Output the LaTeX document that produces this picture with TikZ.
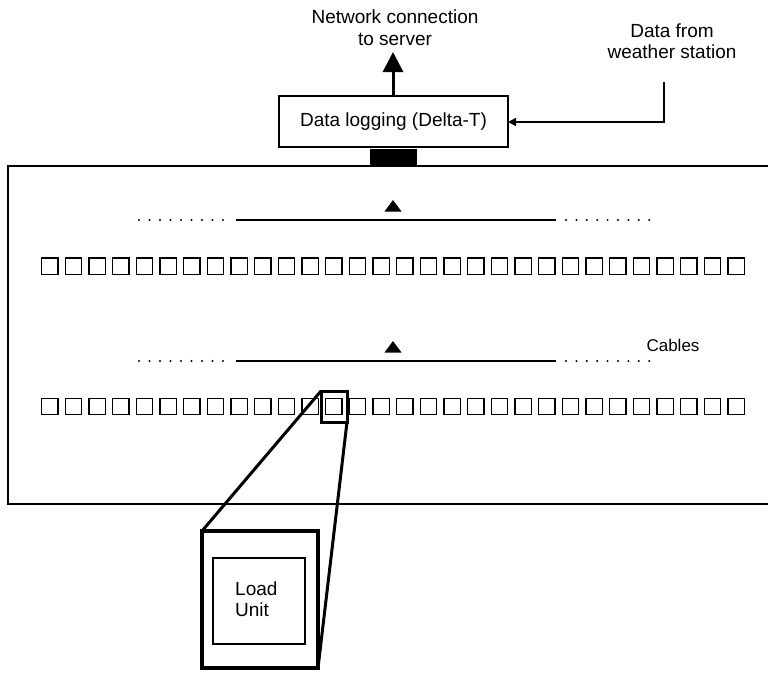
\documentclass[tikz,border=0pt]{standalone}
\usepackage{fontspec}
\setmainfont{Liberation Sans}
\usetikzlibrary{arrows.meta}
\begin{document}
\begin{tikzpicture}[x=1pt,y=-1pt,
  lbl/.style={font=\fontsize{19}{21.5}\selectfont, align=center, inner sep=0pt},
  boxnode/.style={draw, line width=1.5pt, inner sep=0pt, outer sep=0pt},
  sq/.style={draw, line width=1.3pt, minimum width=16.3pt, minimum height=16.3pt, inner sep=0pt, outer sep=0pt},
  cable/.style={line width=1.6pt},
  zoomline/.style={line width=3pt, line join=round}
]
\useasboundingbox (0,0) rectangle (768,673);

% text labels
\node[lbl] (net) at (395,27.5) {Network connection\\to server};
\node[lbl] (wx) at (672,41) {Data from\\weather station};
\node[font=\fontsize{17}{20}\selectfont, inner sep=0pt] (cab) at (673,345) {Cables};

% data logger
\node[boxnode, minimum width=229pt, minimum height=51pt, font=\fontsize{19}{21.5}\selectfont] (log) at (393.5,121.5) {Data logging (Delta-T)};
\node[fill=black, inner sep=0pt, minimum width=47pt, minimum height=18pt] (conn) at (393.5,157.5) {};

% network arrow
\coordinate (nettip) at (393,52);
\draw[line width=3pt, -{Triangle[width=20pt,length=20pt]}] (log.north -| nettip) -- (nettip);

% weather input
\coordinate (wxtop) at (664,82);
\draw[line width=1.5pt, -{Triangle[width=8pt,length=8pt]}] (wxtop) -- (664,122) -- (log.east |- 0,122);

% greenhouse / bench outline
\draw[line width=1.5pt] (770,166) -- (8,166) -- (8,504) -- (770,504);

% cables
\foreach \y/\n in {220/a, 361/b} {
  \draw[cable] (236,\y) -- (556,\y);
  \foreach \k in {0,...,8} {
    \fill (139+\k*10.5,\y) circle (1.1pt);
    \fill (566+\k*10.4,\y) circle (1.1pt);
  }
  \fill (393,\y-20) -- (384.5,\y-8.5) -- (401.5,\y-8.5) -- cycle;
}

% load-unit rows
\foreach \i in {0,...,29} {
  \node[sq] (sa\i) at ({49.85+\i*23.67},266) {};
  \node[sq] (sb\i) at ({49.85+\i*23.67},406.5) {};
}

% highlighted unit and enlargement
\node[draw, line width=3pt, inner sep=0pt, outer sep=0pt, minimum width=26pt, minimum height=31pt] (hl) at (334,406.5) {};
\node[draw, line width=3.5pt, inner sep=0pt, outer sep=0pt, minimum width=116pt, minimum height=137pt] (lu) at (260,599.5) {};
\node[draw, line width=1.5pt, inner sep=0pt, outer sep=0pt, minimum width=92pt, minimum height=86pt] (lui) at (259,601) {};
\node[lbl, align=left, anchor=west] (lutxt) at (235,599) {Load\\Unit};

\draw[zoomline] (hl.north west) -- (lu.north west);
\draw[zoomline] (hl.south east) -- (lu.south east);
\end{tikzpicture}
\end{document}
